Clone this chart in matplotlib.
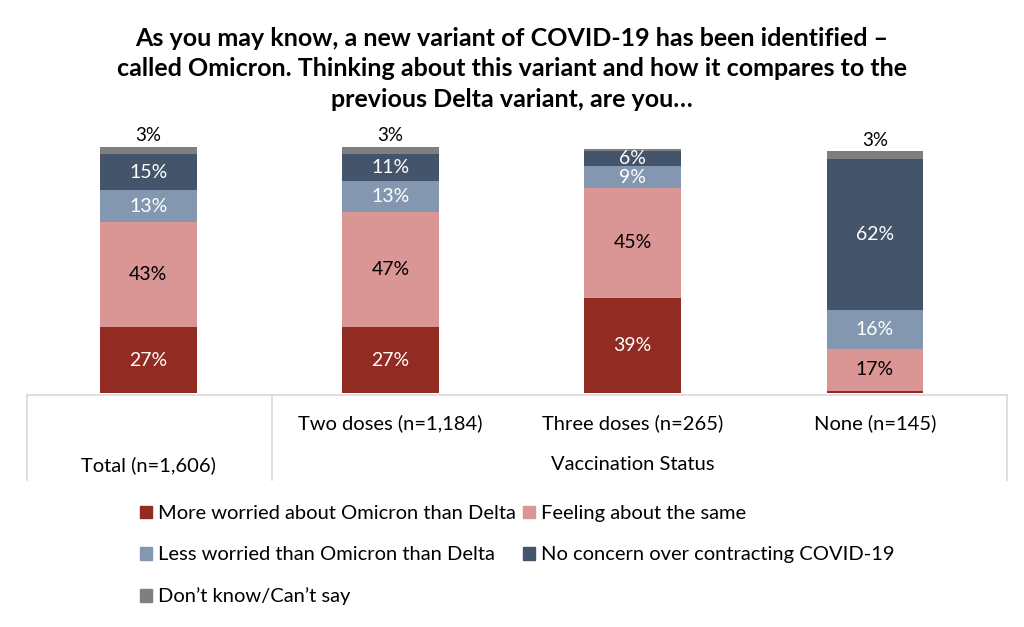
import numpy as np
import matplotlib.pyplot as plt
from matplotlib.lines import Line2D
from matplotlib.patches import Patch

plt.rcParams['font.family'] = ['Lato', 'DejaVu Sans']

categories = ['Total (n=1,606)', 'Two doses (n=1,184)', 'Three doses (n=265)', 'None (n=145)']
series = ['More worried about Omicron than Delta', 'Feeling about the same',
          'Less worried than Omicron than Delta', 'No concern over contracting COVID-19',
          'Don\u2019t know/Can\u2019t say']
more_worried = [27, 27, 39, 1]
same = [43, 47, 45, 17]
less_worried = [13, 13, 9, 16]
no_concern = [15, 11, 6, 62]
dont_know = [3, 3, 1, 3]

colors = ['#922B21', '#DA9694', '#8497B0', '#44546A', '#7F7F7F']
text_colors = ['white', 'black', 'white', 'white', 'black']

title = ('As you may know, a new variant of COVID-19 has been identified \u2013\n'
         'called Omicron. Thinking about this variant and how it compares to the\n'
         'previous Delta variant, are you\u2026')

W, H = 1024, 627
fig = plt.figure(figsize=(W / 100, H / 100), dpi=100)

def fx(px):
    return px / W

def fy(py):
    return 1 - py / H

ppu = 2.44  # pixels per percent
ax = fig.add_axes([fx(27), fy(393), fx(1007) - fx(27), fy(137) - fy(393)])
ax.set_xlim(-0.5, 3.545)
ax.set_ylim(0, (393 - 137) / ppu)
ax.axis('off')

x = np.arange(len(categories))
data = [more_worried, same, less_worried, no_concern, dont_know]
bottom = np.zeros(len(categories))
for i, vals in enumerate(data):
    vals = np.array(vals, dtype=float)
    ax.bar(x, vals, 0.4, bottom=bottom, color=colors[i], label=series[i])
    for j, v in enumerate(vals):
        if i == 4:
            if v >= 2:
                ax.text(x[j], bottom[j] + v + 1.0, f'{int(v)}%', ha='center', va='bottom',
                        fontsize=13.5, color='black')
        elif v >= 5:
            ax.text(x[j], bottom[j] + v / 2, f'{int(v)}%', ha='center', va='center',
                    fontsize=14, color=text_colors[i])
    bottom += vals

fig.text(0.5, fy(69), title, ha='center', va='center', fontsize=18,
         fontweight='bold', linespacing=1.42)

# category table below bars
line_color = '#D9D9D9'
for seg in [((27, 1007), (395, 395)), ((27, 27), (395, 480)), ((1007, 1007), (395, 480)),
            ((272, 272), (395, 480))]:
    fig.add_artist(Line2D([fx(seg[0][0]), fx(seg[0][1])], [fy(seg[1][0]), fy(seg[1][1])],
                          color=line_color, lw=1.2))

for j in range(1, len(categories)):
    xd = ax.transData.transform((x[j], 0))[0] / W
    fig.text(xd, fy(423), categories[j], ha='center', va='center', fontsize=14.5)
xd0 = ax.transData.transform((x[0], 0))[0] / W
fig.text(xd0, fy(465), categories[0], ha='center', va='center', fontsize=14.5)
xd2 = ax.transData.transform((x[2], 0))[0] / W
fig.text(xd2, fy(465), 'Vaccination Status', ha='center', va='center', fontsize=14.5)

handles = [Patch(color=c) for c in colors]
order = [0, 2, 4, 1, 3]
fig.legend([handles[k] for k in order], [series[k] for k in order], ncol=2,
           loc='upper left', bbox_to_anchor=(fx(126), fy(491)), frameon=False,
           fontsize=14.5, handlelength=0.6, handleheight=0.6, handletextpad=0.3,
           columnspacing=0.35, labelspacing=1.2, borderpad=0.2)

fig.savefig('out.png', dpi=100)
